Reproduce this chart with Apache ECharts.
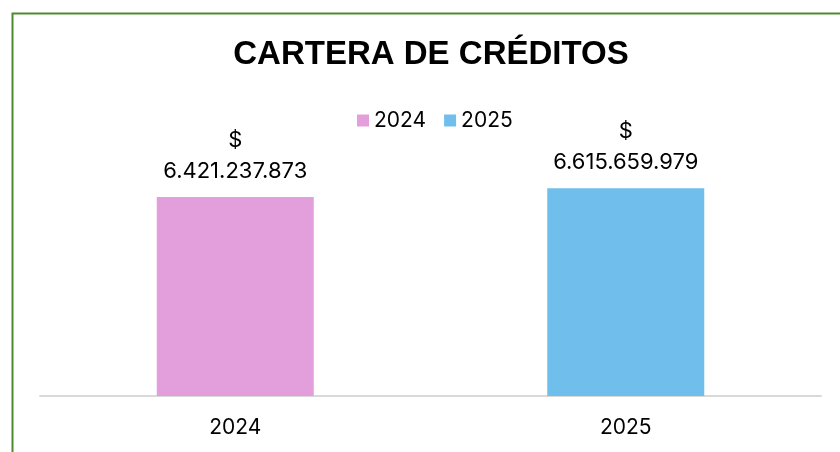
<!DOCTYPE html>
<html>
<head>
<meta charset="utf-8">
<script src="https://cdn.jsdelivr.net/npm/echarts@6/dist/echarts.min.js"></script>
<style>html,body{margin:0;padding:0;background:#fff;}#c{width:840px;height:452px;}</style>
</head>
<body>
<div id="c"></div>
<script>
const title = 'CARTERA DE CRÉDITOS';
const categories = ['2024', '2025'];
const seriesNames = ['2024', '2025'];
const values2024 = [6421237873, '-'];
const values2025 = ['-', 6615659979];
const colors = ['#E39FDB', '#70BEEB'];

function fmt(v) {
  return '$\n' + String(v).replace(/\B(?=(\d{3})+(?!\d))/g, '.');
}

const font = 'Inter, Liberation Sans, Arial, sans-serif';
const titleFont = 'Liberation Sans, Arial, sans-serif';
const chart = echarts.init(document.getElementById('c'), null, {renderer: 'canvas'});
const labelCfg = {
  show: true, position: 'top', distance: 10, color: '#000',
  fontFamily: font, fontSize: 22, lineHeight: 31,
  formatter: p => fmt(p.value)
};
chart.setOption({
  animation: false,
  backgroundColor: '#fff',
  graphic: [{
    type: 'rect', left: 10, top: 11, silent: true,
    shape: {x: 0, y: 0, width: 900, height: 500},
    style: {fill: 'none', stroke: '#4E8A2E', lineWidth: 2}
  }],
  title: {
    text: title, left: 426, top: 33, textAlign: 'center',
    textStyle: {fontFamily: titleFont, fontSize: 33, fontWeight: 'bold', color: '#000'}
  },
  legend: {
    data: seriesNames, top: 105, left: 352,
    itemWidth: 12, itemHeight: 12, itemGap: 18, icon: 'rect',
    textStyle: {fontFamily: font, fontSize: 21, color: '#000'}
  },
  grid: {left: 40, right: 19, top: 171, bottom: 56},
  xAxis: {
    type: 'category', data: categories,
    axisLine: {lineStyle: {color: '#D9D9D9', width: 2}},
    axisTick: {show: false},
    axisLabel: {fontFamily: font, fontSize: 21, color: '#000', margin: 21}
  },
  yAxis: {
    type: 'value', min: 2000000000, max: 7000000000, interval: 1000000000,
    show: false, splitLine: {show: false}
  },
  series: [
    {name: seriesNames[0], type: 'bar', stack: 'a', barWidth: 157, data: values2024,
     itemStyle: {color: colors[0]}, label: labelCfg},
    {name: seriesNames[1], type: 'bar', stack: 'a', barWidth: 157, data: values2025,
     itemStyle: {color: colors[1]}, label: labelCfg}
  ]
});
</script>
</body>
</html>
